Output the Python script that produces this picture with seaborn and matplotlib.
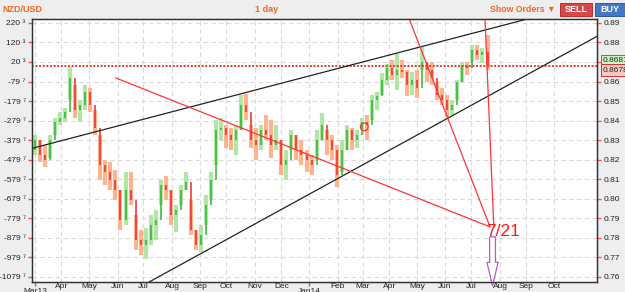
import numpy as np
import pandas as pd
import seaborn as sns
import matplotlib.pyplot as plt
from matplotlib.patches import Rectangle

#%% data - NZD/USD, one candle per 4 trading days, Mar 2013 - Jul 2014
first_open = 0.8250
highs = [0.8327, 0.8301, 0.8276, 0.8327, 0.8414, 0.8444, 0.8465, 0.8675, 0.8583, 0.8506,
         0.8583, 0.8567, 0.8455, 0.8327, 0.8199, 0.8189, 0.8148, 0.8045, 0.8137, 0.8137,
         0.7917, 0.7841, 0.7851, 0.7917, 0.7943, 0.8096, 0.8117, 0.8045, 0.7969, 0.8071,
         0.8137, 0.7994, 0.7841, 0.7866, 0.8020, 0.8137, 0.8404, 0.8414, 0.8378, 0.8363,
         0.8378, 0.8532, 0.8537, 0.8378, 0.8363, 0.8378, 0.8429, 0.8404, 0.8378, 0.8301,
         0.8250, 0.8352, 0.8327, 0.8301, 0.8250, 0.8224, 0.8352, 0.8439, 0.8352, 0.8327,
         0.8276, 0.8301, 0.8378, 0.8363, 0.8352, 0.8414, 0.8429, 0.8532, 0.8547, 0.8644,
         0.8690, 0.8711, 0.8741, 0.8711, 0.8659, 0.8649, 0.8659, 0.8777, 0.8695, 0.8700,
         0.8598, 0.8567, 0.8532, 0.8506, 0.8608, 0.8700, 0.8700, 0.8787, 0.8787, 0.8772,
         0.8839]
lows = [0.8224, 0.8189, 0.8163, 0.8209, 0.8327, 0.8378, 0.8393, 0.8506, 0.8414, 0.8393,
        0.8455, 0.8444, 0.8327, 0.8096, 0.8071, 0.8045, 0.7994, 0.7841, 0.7866, 0.7969,
        0.7738, 0.7713, 0.7692, 0.7764, 0.7789, 0.7969, 0.7994, 0.7866, 0.7830, 0.7969,
        0.8045, 0.7815, 0.7738, 0.7728, 0.7866, 0.7994, 0.8173, 0.8301, 0.8260, 0.8250,
        0.8224, 0.8352, 0.8404, 0.8260, 0.8199, 0.8250, 0.8301, 0.8209, 0.8250, 0.8122,
        0.8096, 0.8250, 0.8199, 0.8173, 0.8137, 0.8122, 0.8199, 0.8301, 0.8224, 0.8199,
        0.8061, 0.8137, 0.8250, 0.8250, 0.8260, 0.8352, 0.8301, 0.8404, 0.8455, 0.8532,
        0.8583, 0.8608, 0.8557, 0.8619, 0.8526, 0.8532, 0.8516, 0.8659, 0.8598, 0.8583,
        0.8506, 0.8480, 0.8419, 0.8429, 0.8506, 0.8598, 0.8634, 0.8700, 0.8711, 0.8695,
        0.8659]
closes = [0.8301, 0.8224, 0.8199, 0.8301, 0.8393, 0.8414, 0.8444, 0.8619, 0.8455, 0.8480,
          0.8547, 0.8480, 0.8363, 0.8173, 0.8137, 0.8096, 0.8045, 0.7892, 0.8045, 0.7994,
          0.7789, 0.7764, 0.7789, 0.7866, 0.7892, 0.8071, 0.8045, 0.7917, 0.7943, 0.8045,
          0.8086, 0.7841, 0.7764, 0.7815, 0.7969, 0.8096, 0.8352, 0.8363, 0.8327, 0.8301,
          0.8352, 0.8480, 0.8444, 0.8301, 0.8276, 0.8352, 0.8327, 0.8276, 0.8301, 0.8173,
          0.8199, 0.8327, 0.8250, 0.8224, 0.8199, 0.8173, 0.8301, 0.8378, 0.8301, 0.8250,
          0.8122, 0.8250, 0.8352, 0.8301, 0.8327, 0.8393, 0.8378, 0.8506, 0.8526, 0.8608,
          0.8670, 0.8634, 0.8659, 0.8649, 0.8583, 0.8608, 0.8567, 0.8700, 0.8659, 0.8619,
          0.8532, 0.8506, 0.8455, 0.8480, 0.8598, 0.8685, 0.8670, 0.8762, 0.8736, 0.8752,
          0.8680]

price_ticks = [0.89, 0.88, 0.87, 0.86, 0.85, 0.84, 0.83, 0.82, 0.81, 0.80, 0.79, 0.78, 0.77, 0.76]
pip_labels = ['220 ³', '120 ³', '20 ³', '-79 ⁷', '-179 ⁷', '-279 ⁷', '-379 ⁷', '-479 ⁷',
              '-579 ⁷', '-679 ⁷', '-779 ⁷', '-879 ⁷', '-979 ⁷', '-1079 ⁷']
ask, bid = 0.86815, 0.86780

# drawn trend lines (date, price)
upper_black = [('2013-03-01', 0.8262), ('2014-07-01', 0.8845)]
lower_black = [('2013-09-02', 0.7716), ('2014-07-01', 0.8478)]
red_long = [('2013-05-30', 0.8619), ('2014-07-22', 0.7856)]
red_steep = [('2014-04-23', 0.8915), ('2014-07-22', 0.7856)]
red_vert = [('2014-07-16', 0.8920), ('2014-07-25', 0.7856)]
circle_pt = ('2014-03-04', 0.8368)
note_pt = ('2014-07-17', 0.7830)
arrow_from = ('2014-07-24', 0.7805)
arrow_to = ('2014-07-24', 0.7554)

#%% helpers
START = '2013-03-01'
def bd(d):
    return np.busday_count(START, np.datetime64(d, 'D'))

highs, lows, closes = np.array(highs), np.array(lows), np.array(closes)
opens = np.r_[first_open, closes[:-1]]
dates = pd.bdate_range(START, periods=len(closes), freq='4B')
xs = np.array([bd(d.date()) for d in dates])
up = closes >= opens

sns.set_style('whitegrid', {'axes.edgecolor': '#333333', 'grid.color': '#dadada'})
plt.rcParams['font.family'] = ['Liberation Sans Narrow', 'Liberation Sans', 'DejaVu Sans']

fig = plt.figure(figsize=(6.25, 2.92), dpi=100, facecolor='#eeeeee')
ax = fig.add_axes([32 / 625, 10 / 292, 565 / 625, 263 / 292])
ax.set_facecolor('white')

# candles
ax.vlines(xs[up], lows[up], highs[up], color='#b2e6a8', lw=3.0, zorder=2)
ax.vlines(xs[~up], lows[~up], highs[~up], color='#ffb490', lw=3.0, zorder=2)
ax.vlines(xs[up], opens[up], closes[up], color='#2db52d', lw=1.1, zorder=3)
ax.vlines(xs[~up], closes[~up], opens[~up], color='#e82a2a', lw=1.1, zorder=3)

# price lines
ax.axhline(ask, color='#55c455', ls=(0, (1, 1)), lw=1.3, zorder=4)
ax.axhline(bid, color='#ff3030', ls=(0, (1, 1)), lw=1.3, zorder=4)

# trend lines
for seg in (upper_black, lower_black):
    ax.axline((bd(seg[0][0]), seg[0][1]), (bd(seg[1][0]), seg[1][1]), color='#222222', lw=0.9, zorder=5)
for seg in (red_long, red_steep, red_vert):
    ax.plot([bd(seg[0][0]), bd(seg[1][0])], [seg[0][1], seg[1][1]], color='#ff3535', lw=0.9, zorder=5)

sns.scatterplot(x=[bd(circle_pt[0])], y=[circle_pt[1]], ax=ax, marker='o', s=30,
                facecolor='none', edgecolor='#ff3030', linewidth=0.9, zorder=6)

ax.text(bd(note_pt[0]), note_pt[1], '7/21', color='#ff1a1a', fontsize=12.5,
        family='Liberation Sans', ha='left', va='center', zorder=7)
ax.annotate('', xy=(bd(arrow_to[0]), arrow_to[1]), xytext=(bd(arrow_from[0]), arrow_from[1]),
            arrowprops=dict(arrowstyle='simple,head_length=1.7,head_width=0.8,tail_width=0.42',
                            fc='white', ec='#b45ec4', lw=0.9, shrinkA=0, shrinkB=0,
                            mutation_scale=10, clip_on=False),
            annotation_clip=False, zorder=7)

# axes
ax.set_xlim(-2.4, 447.1)
ax.set_ylim(0.7574, 0.8920)
ax.set_yticks(price_ticks)
ax.set_yticklabels(pip_labels)
ax.tick_params(axis='y', which='major', labelsize=6, labelcolor='#222222', color='#ff4d4d',
               length=3, width=1, pad=1.5, left=True)

month_starts = pd.date_range('2013-03-01', '2014-10-01', freq='MS')
major_x, major_lab, minor_x, minor_lab = [], [], [], []
for m in month_starts:
    pos = bd(np.busday_offset(m.strftime('%Y-%m-%d'), 0, roll='forward'))
    if m.month == 1 or m == month_starts[0]:
        major_x.append(pos)
        major_lab.append(m.strftime('%b%y'))
    else:
        minor_x.append(pos)
        minor_lab.append(m.strftime('%b'))
ax.set_xticks(major_x)
ax.set_xticklabels(major_lab)
ax.set_xticks(minor_x, minor=True)
ax.set_xticklabels(minor_lab, minor=True)
ax.tick_params(axis='x', which='major', labelsize=6, labelcolor='#222222', color='#ff4d4d',
               length=3, width=1, pad=1.2, bottom=True)
ax.tick_params(axis='x', which='minor', labelsize=6, labelcolor='#222222', length=0, pad=1)
ax.grid(False)
ax.grid(True, which='both', axis='x', color='#dadada', lw=0.8, ls='--', dashes=(4, 3), zorder=0)
ax.grid(True, which='major', axis='y', color='#dadada', lw=0.8, ls='--', dashes=(4, 3), zorder=0)
for s in ax.spines.values():
    s.set_color('#333333')
    s.set_linewidth(1)

ax_r = ax.twinx()
ax_r.set_ylim(ax.get_ylim())
ax_r.set_yticks(price_ticks)
ax_r.set_yticklabels([f'{p:.2f}' for p in price_ticks])
ax_r.grid(False)
ax_r.tick_params(axis='y', labelsize=6, labelcolor='#222222', color='#ff4d4d',
                 length=3, width=1, pad=1.5, right=True)

# current price boxes on right axis (cover the 0.87 label, as in the app)
ax_r.annotate(f'{ask:.5f}', xy=(1, ask), xycoords=('axes fraction', 'data'), xytext=(4.3, 3.7),
              textcoords='offset points', fontsize=6, va='center', ha='left', annotation_clip=False,
              zorder=20, bbox=dict(boxstyle='square,pad=0.28', fc='#c8f5c0', ec='#2e9e2e', lw=0.7))
ax_r.annotate(f'{bid:.5f}', xy=(1, bid), xycoords=('axes fraction', 'data'), xytext=(4.3, -2.8),
              textcoords='offset points', fontsize=6, va='center', ha='left', annotation_clip=False,
              zorder=20, bbox=dict(boxstyle='square,pad=0.28', fc='#f8c8c8', ec='#d03030', lw=0.7))

# header
orange = '#f4661b'
fig.text(2 / 625, 1 - 9 / 292, 'NZD/USD', color=orange, fontsize=6.5, weight='bold', va='center')
fig.text(267 / 625, 1 - 9 / 292, '1 day', color=orange, fontsize=6.5, weight='bold', va='center', ha='center')
fig.text(556 / 625, 1 - 9 / 292, 'Show Orders ▼', color=orange, fontsize=6.3, weight='bold',
         va='center', ha='right')
fig.add_artist(Rectangle((560 / 625, 1 - 16 / 292), 32 / 625, 13 / 292, transform=fig.transFigure,
                         fc='#d94848', ec='#b03030', lw=0.7))
fig.text(576 / 625, 1 - 9.5 / 292, 'SELL', color='white', fontsize=6.5, weight='bold', va='center', ha='center')
fig.add_artist(Rectangle((595 / 625, 1 - 16 / 292), 31 / 625, 13 / 292, transform=fig.transFigure,
                         fc='#4477c4', ec='#2f5a9a', lw=0.7))
fig.text(610 / 625, 1 - 9.5 / 292, 'BUY', color='white', fontsize=6.5, weight='bold', va='center', ha='center')

fig.savefig('out.png', dpi=100, facecolor=fig.get_facecolor())
